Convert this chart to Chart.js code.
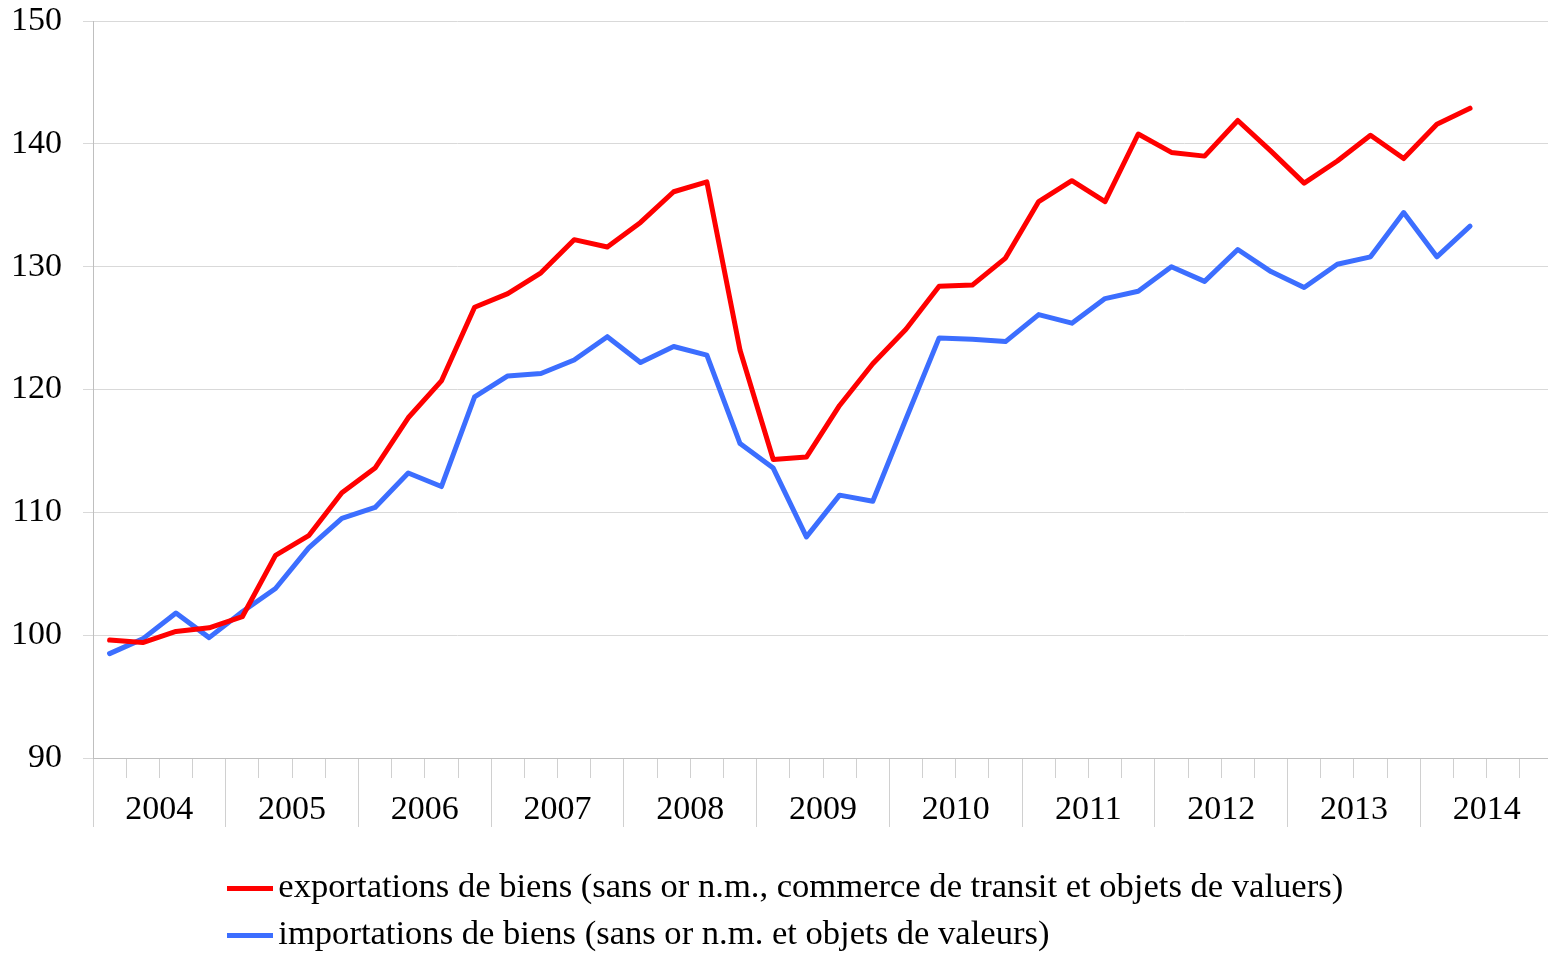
<!DOCTYPE html>
<html>
<head>
<meta charset="utf-8">
<script src="https://cdn.jsdelivr.net/npm/chart.js@4/dist/chart.umd.min.js"></script>
<style>
  html, body { margin: 0; padding: 0; background: #ffffff; }
  #wrap { width: 1548px; height: 953px; }
</style>
</head>
<body>
<div id="wrap"><canvas id="c" width="1548" height="953"></canvas></div>
<script>
// ---- data ----
const years = ['2004', '2005', '2006', '2007', '2008', '2009', '2010', '2011', '2012', '2013', '2014'];
const quarterNames = ['T1', 'T2', 'T3', 'T4'];
const yTicks = [90, 100, 110, 120, 130, 140, 150];

const exportsLabel = 'exportations de biens (sans or n.m., commerce de transit et objets de valuers)';
const importsLabel = 'importations de biens (sans or n.m. et objets de valeurs)';

const exportsValues = [99.6, 99.4, 100.3, 100.6, 101.5, 106.5, 108.1, 111.6, 113.6, 117.7,
  120.7, 126.7, 127.8, 129.5, 132.2, 131.6, 133.6, 136.1, 136.9, 123.2,
  114.3, 114.5, 118.7, 122.1, 124.9, 128.4, 128.5, 130.7, 135.3, 137.0,
  135.3, 140.8, 139.3, 139.0, 141.9, 139.4, 136.8, 138.6, 140.7, 138.8,
  141.6, 142.9];
const importsValues = [98.5, 99.7, 101.8, 99.8, 101.9, 103.8, 107.1, 109.5, 110.4, 113.2,
  112.1, 119.4, 121.1, 121.3, 122.4, 124.3, 122.2, 123.5, 122.8, 115.6,
  113.6, 108.0, 111.4, 110.9, 117.6, 124.2, 124.1, 123.9, 126.1, 125.4,
  127.4, 128.0, 130.0, 128.8, 131.4, 129.6, 128.3, 130.2, 130.8, 134.4,
  130.8, 133.3];

// quarter categories built from the years
const quarterLabels = years.flatMap(y => quarterNames.map(q => y + ' ' + q));

// ---- styles ----
const RED = '#FF0000';
const BLUE = '#3C6EFF';
const FAMILY = "'Liberation Serif', 'Times New Roman', serif";
const AXIS_FONT = { family: FAMILY, size: 34 };
const LEGEND_FONT = { family: FAMILY, size: 34.6 };

function legendLine(color) {
  const cv = document.createElement('canvas');
  cv.width = 46; cv.height = 5;
  const g = cv.getContext('2d');
  g.fillStyle = color;
  g.fillRect(0, 0, 46, 5);
  return cv;
}

// The category axes run slightly past the right edge of the picture (as in the original)
const AXIS_OVERHANG = 5;

const layoutTweaks = {
  id: 'layoutTweaks',
  afterLayout(chart) {
    ['x', 'x2'].forEach(id => {
      const s = chart.scales[id];
      if (!s) return;
      s.right += AXIS_OVERHANG;
      s.width += AXIS_OVERHANG;
      s.configure();
    });
    const lg = chart.legend;
    if (!lg) return;
    const h = lg.bottom - lg.top;
    lg.left = 226.6;
    lg.right = chart.width;
    lg.top = 858.3;
    lg.bottom = lg.top + h;
  }
};

Chart.defaults.color = '#000000';
Chart.defaults.font.family = FAMILY;

new Chart(document.getElementById('c'), {
  type: 'line',
  data: {
    labels: quarterLabels,
    datasets: [
      {
        label: exportsLabel,
        data: exportsValues,
        borderColor: RED,
        backgroundColor: RED,
        borderWidth: 5,
        pointRadius: 0,
        pointHoverRadius: 0,
        pointStyle: legendLine(RED),
        tension: 0,
        fill: false,
        borderJoinStyle: 'round',
        borderCapStyle: 'round'
      },
      {
        label: importsLabel,
        data: importsValues,
        borderColor: BLUE,
        backgroundColor: BLUE,
        borderWidth: 5,
        pointRadius: 0,
        pointHoverRadius: 0,
        pointStyle: legendLine(BLUE),
        tension: 0,
        fill: false,
        borderJoinStyle: 'round',
        borderCapStyle: 'round'
      }
    ]
  },
  options: {
    responsive: false,
    devicePixelRatio: 1,
    animation: false,
    layout: { padding: 0 },
    plugins: {
      legend: {
        display: true,
        position: 'bottom',
        align: 'start',
        labels: {
          usePointStyle: true,
          pointStyleWidth: 22,
          boxHeight: 5,
          padding: 12.4,
          color: '#000000',
          font: LEGEND_FONT
        }
      },
      tooltip: { enabled: false }
    },
    scales: {
      x: {
        type: 'category',
        position: 'bottom',
        weight: 0,
        offset: true,
        grid: { offset: true, drawOnChartArea: false, tickLength: 20, color: '#D0D0D0', lineWidth: 1 },
        border: { display: true, color: '#BFBFBF', width: 1 },
        ticks: { display: false }
      },
      x2: {
        type: 'category',
        position: 'bottom',
        weight: 1,
        labels: years,
        offset: true,
        grid: { offset: true, drawOnChartArea: false, tickLength: 49, color: '#D0D0D0', lineWidth: 1 },
        border: { display: false },
        ticks: { autoSkip: false, maxRotation: 0, padding: -37.6, font: AXIS_FONT, color: '#000000' },
        afterFit(scale) { scale.height = 71; }
      },
      y: {
        type: 'linear',
        min: yTicks[0],
        max: yTicks[yTicks.length - 1],
        afterBuildTicks(scale) { scale.ticks = yTicks.map(v => ({ value: v })); },
        ticks: { padding: 21, font: AXIS_FONT, color: '#000000' },
        grid: { color: '#D9D9D9', tickLength: 10, lineWidth: 1 },
        border: { display: true, color: '#BFBFBF', width: 1 },
        afterFit(scale) {
          scale.width = 93;
          scale.paddingTop = 21;
          scale.paddingBottom = 21;
        }
      }
    }
  },
  plugins: [layoutTweaks]
});
</script>
</body>
</html>
